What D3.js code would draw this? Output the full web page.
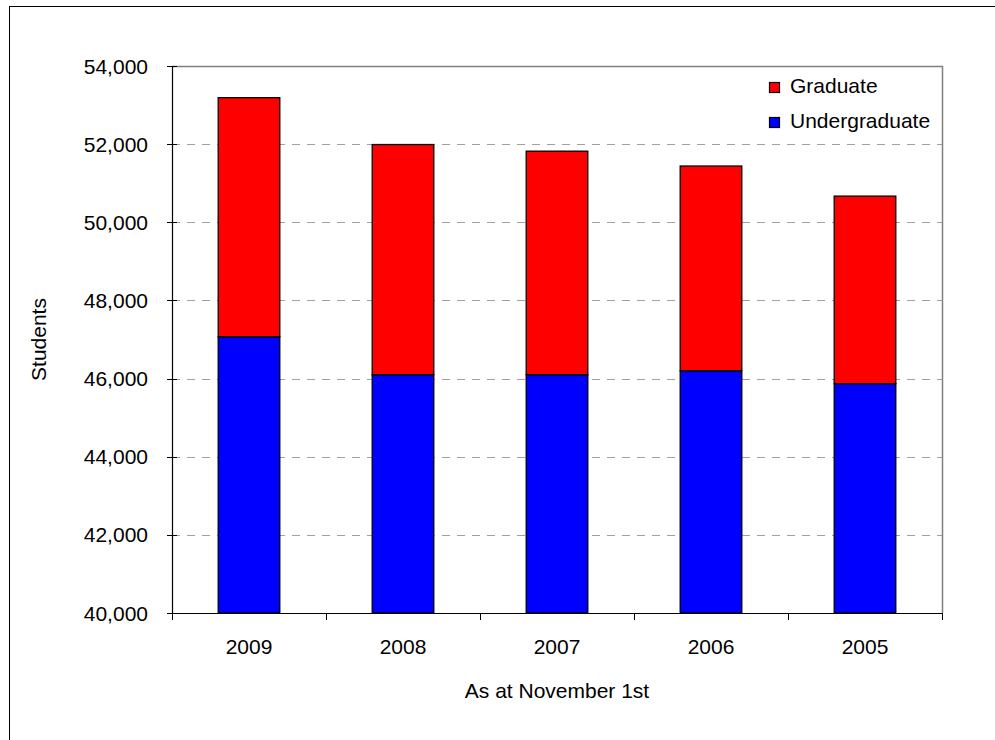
<!DOCTYPE html>
<html>
<head>
<meta charset="utf-8">
<script src="https://cdn.jsdelivr.net/npm/d3@7"></script>
<style>
  html, body { margin: 0; padding: 0; background: #fff; }
  svg { display: block; }
  text { font-family: "Liberation Sans", Arial, sans-serif; fill: #000; }
</style>
</head>
<body>
<svg id="chart" width="995" height="740"></svg>
<script>
const years = ["2009", "2008", "2007", "2006", "2005"];
const undergraduate = [47070, 46100, 46100, 46200, 45870];
const graduate = [6120, 5890, 5720, 5240, 4800];
const seriesNames = ["Graduate", "Undergraduate"];
const seriesColors = ["#FF0000", "#0000FF"];
const yTicks = [40000, 42000, 44000, 46000, 48000, 50000, 52000, 54000];

const svg = d3.select("#chart");
const L = 172, R = 942, T = 66, B = 613;

// outer frame
svg.append("rect").attr("x", 9.5).attr("y", 6.5).attr("width", 1100).attr("height", 1100)
  .attr("fill", "none").attr("stroke", "#000").attr("stroke-width", 1);

const x = d3.scaleBand().domain(years).range([L, R]).padding(0);
const y = d3.scaleLinear().domain([40000, 54000]).range([B, T]);
const fmt = d3.format(",");

// gridlines
svg.append("g").selectAll("line").data(yTicks.filter(v => v > 40000 && v < 54000)).join("line")
  .attr("x1", L).attr("x2", R)
  .attr("y1", d => Math.round(y(d)) + 0.5).attr("y2", d => Math.round(y(d)) + 0.5)
  .attr("stroke", "#a0a0a0").attr("stroke-width", 1).attr("stroke-dasharray", "8,7");

// plot border top & right
svg.append("path")
  .attr("d", `M${L},${T + 0.5}H${R + 0.5}V${B}`)
  .attr("fill", "none").attr("stroke", "#808080").attr("stroke-width", 1.5);

// stacked bars
const data = years.map((yr, i) => ({ year: yr, Undergraduate: undergraduate[i], Graduate: graduate[i] }));
const stack = d3.stack().keys(["Undergraduate", "Graduate"]);
const stacked = stack(data);
const colorOf = { Undergraduate: "#0000FF", Graduate: "#FF0000" };
const barW = x.bandwidth() * 0.4;

stacked.forEach(layer => {
  svg.append("g").selectAll("rect").data(layer).join("rect")
    .attr("x", d => x(d.data.year) + (x.bandwidth() - barW) / 2)
    .attr("width", barW)
    .attr("y", d => y(Math.min(d[1], 54000)))
    .attr("height", d => y(Math.max(d[0], 40000)) - y(Math.min(d[1], 54000)))
    .attr("fill", colorOf[layer.key])
    .attr("stroke", "#000").attr("stroke-width", 1.3);
});

// y axis
const yAxis = svg.append("g");
yAxis.append("line").attr("x1", L + 0.5).attr("x2", L + 0.5).attr("y1", T).attr("y2", B)
  .attr("stroke", "#000").attr("stroke-width", 1.2);
yAxis.selectAll("line.tk").data(yTicks).join("line").attr("class", "tk")
  .attr("x1", L - 5).attr("x2", L + 5)
  .attr("y1", d => Math.round(y(d)) + 0.5).attr("y2", d => Math.round(y(d)) + 0.5)
  .attr("stroke", "#000").attr("stroke-width", 1);
yAxis.selectAll("text").data(yTicks).join("text")
  .attr("x", 148).attr("y", d => y(d) + 7.5)
  .attr("text-anchor", "end").attr("font-size", 21)
  .text(d => fmt(d));

// x axis
const xAxis = svg.append("g");
xAxis.append("line").attr("x1", L).attr("x2", R + 1).attr("y1", B + 0.5).attr("y2", B + 0.5)
  .attr("stroke", "#000").attr("stroke-width", 1.2);
const xTickPos = years.map(d => x(d)).concat([x(years[years.length - 1]) + x.bandwidth()]);
xAxis.selectAll("line.tk").data(xTickPos).join("line").attr("class", "tk")
  .attr("x1", d => Math.round(d) + 0.5).attr("x2", d => Math.round(d) + 0.5)
  .attr("y1", B).attr("y2", B + 7)
  .attr("stroke", "#000").attr("stroke-width", 1);
xAxis.selectAll("text").data(years).join("text")
  .attr("x", d => x(d) + x.bandwidth() / 2).attr("y", 654)
  .attr("text-anchor", "middle").attr("font-size", 21)
  .text(d => d);

// axis titles
svg.append("text").attr("x", (L + R) / 2).attr("y", 698)
  .attr("text-anchor", "middle").attr("font-size", 21).text("As at November 1st");
svg.append("text").attr("transform", `translate(46,${(T + B) / 2}) rotate(-90)`)
  .attr("text-anchor", "middle").attr("font-size", 21).text("Students");

// legend
const lg = svg.append("g");
seriesNames.forEach((name, i) => {
  const yy = 82 + i * 35;
  lg.append("rect").attr("x", 769.5).attr("y", yy + 0.5).attr("width", 10).attr("height", 10)
    .attr("fill", seriesColors[i]).attr("stroke", "#000").attr("stroke-width", 1.2);
  lg.append("text").attr("x", 790).attr("y", yy + 10.5).attr("font-size", 21).text(name);
});
</script>
</body>
</html>
